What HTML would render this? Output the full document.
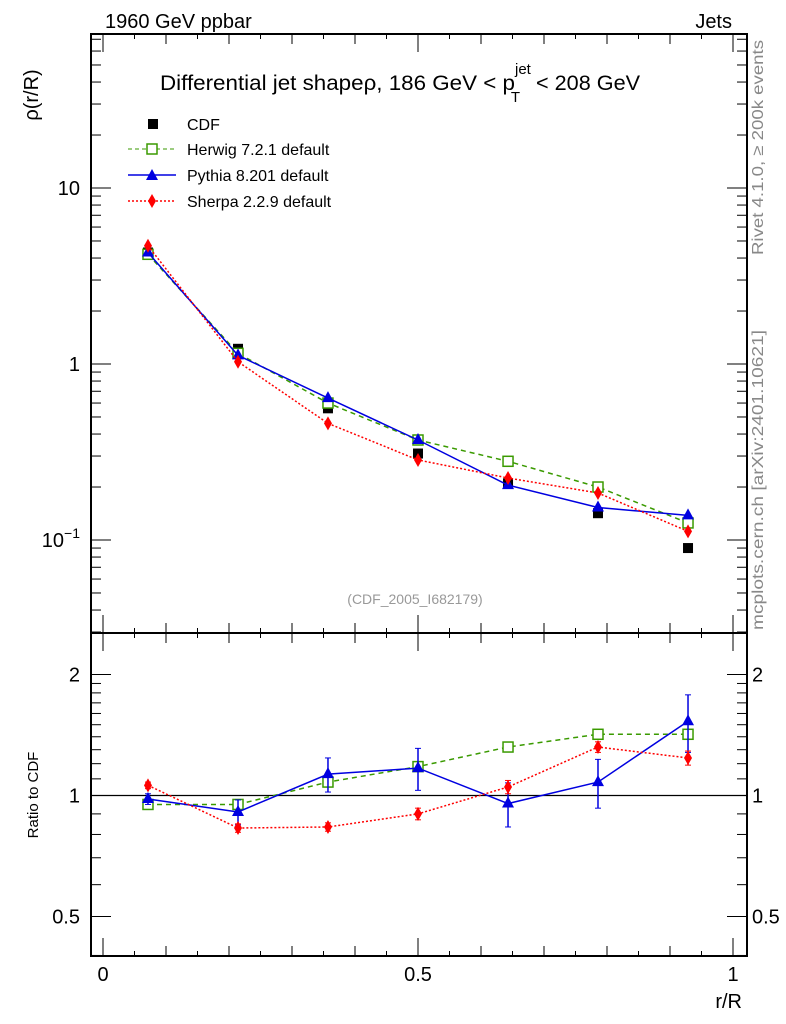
<!DOCTYPE html>
<html><head><meta charset="utf-8"><style>
body{margin:0;background:#fff}
svg{display:block;font-family:"Liberation Sans",sans-serif}
</style></head><body>
<svg id="c" width="786" height="1024" viewBox="0 0 786 1024" xmlns="http://www.w3.org/2000/svg">
<text x="105" y="28" font-size="20">1960 GeV ppbar</text>
<text x="732" y="28" font-size="20" text-anchor="end">Jets</text>
<text x="160" y="90" font-size="21"><tspan textLength="355" lengthAdjust="spacingAndGlyphs">Differential jet shapeρ, 186 GeV &lt; p</tspan><tspan dy="-16" font-size="15">jet</tspan><tspan dx="-20" dy="28" font-size="15">T</tspan><tspan dx="10" dy="-12" textLength="110" lengthAdjust="spacingAndGlyphs"> &lt; 208 GeV</tspan></text>
<text transform="translate(763,255) rotate(-90)" font-size="16" fill="#888" textLength="215" lengthAdjust="spacingAndGlyphs">Rivet 4.1.0, ≥ 200k events</text>
<text transform="translate(763,630) rotate(-90)" font-size="16" fill="#888" textLength="300" lengthAdjust="spacingAndGlyphs">mcplots.cern.ch [arXiv:2401.10621]</text>
<text x="415" y="604" font-size="14" fill="#999" text-anchor="middle">(CDF_2005_I682179)</text>
<text transform="translate(38,95) rotate(-90)" font-size="20" text-anchor="middle">ρ(r/R)</text>
<text transform="translate(38,795) rotate(-90)" font-size="15" text-anchor="middle">Ratio to CDF</text>
<text x="742" y="1008" font-size="20" text-anchor="end">r/R</text>
<g id="g"></g>
<g>
<rect x="148" y="119" width="10" height="10" fill="#000"/>
<text x="187" y="130" font-size="16">CDF</text>
<line x1="128" y1="149" x2="176" y2="149" stroke="#3a9a00" stroke-dasharray="4,3"/>
<rect x="147" y="144" width="10" height="10" fill="#fff" stroke="#3a9a00" stroke-width="1.5"/>
<text x="187" y="155" font-size="16">Herwig 7.2.1 default</text>
<line x1="128" y1="175" x2="176" y2="175" stroke="#0000e0" stroke-width="1.5"/>
<polygon points="152,169 158,180 146,180" fill="#0000e0"/>
<text x="187" y="181" font-size="16">Pythia 8.201 default</text>
<line x1="128" y1="201" x2="176" y2="201" stroke="#f00" stroke-dasharray="2,2" stroke-width="1.5"/>
<polygon points="152,194 156,201 152,208 148,201" fill="#f00"/>
<text x="187" y="207" font-size="16">Sherpa 2.2.9 default</text>
</g>
</svg>
<script>
const xs=[0.0714,0.2143,0.3571,0.5,0.6429,0.7857,0.9286];
const cdf=[4.3,1.22,0.56,0.31,0.21,0.142,0.09];
const herwig=[4.2,1.15,0.60,0.37,0.28,0.20,0.125];
const pythia=[4.3,1.12,0.64,0.37,0.205,0.153,0.138];
const sherpa=[4.7,1.03,0.46,0.285,0.225,0.185,0.112];
const rHerwig=[0.95,0.95,1.08,1.18,1.32,1.42,1.42];
const rHerwigErr=[0.02,0.02,0.03,0.03,0.03,0.03,0.03];
const rPythia=[0.98,0.91,1.13,1.17,0.955,1.08,1.53];
const rPythiaErr=[0.03,0.065,0.11,0.14,0.12,0.15,0.25];
const rSherpa=[1.06,0.83,0.835,0.90,1.05,1.32,1.24];
const rSherpaErr=[0.02,0.02,0.02,0.03,0.04,0.04,0.05];
const NS="http://www.w3.org/2000/svg",g=document.getElementById('g');
const L=91,R=747,T=34,M=633,B=956;
const X=v=>103+v*630;
const Y=v=>364-176*Math.log10(v);
const RY=v=>795.5-121*Math.log2(v);
function el(t,a,name){const e=document.createElementNS(NS,t);for(const k in a)e.setAttribute(k,a[k]);


g.appendChild(e);return e;}
el('rect',{x:L,y:T,width:R-L,height:M-T,fill:'none',stroke:'#000','stroke-width':2},'main-frame');
el('rect',{x:L,y:M,width:R-L,height:B-M,fill:'none',stroke:'#000','stroke-width':2},'ratio-frame');
for(let i=0;i<=20;i++){const v=i*0.05,x=X(v),len=i%10==0?18:(i%2==0?10:5);
 for(const [y0,d] of [[T,1],[M,-1],[M,1],[B,-1]]) el('line',{x1:x,y1:y0,x2:x,y2:y0+d*len,stroke:'#000'},'x-tick');}
['0','0.5','1'].forEach((s,i)=>{const t=el('text',{x:X(i*0.5),y:981,'font-size':20,'text-anchor':'middle'},'x-tick-label');t.textContent=s;});
for(let d=-2;d<=1;d++)for(let m=1;m<10;m++){const v=m*Math.pow(10,d),y=Y(v);if(y<T||y>M)continue;
 const len=m==1?20:10;el('line',{x1:L,y1:y,x2:L+len,y2:y,stroke:'#000'},'y-tick');el('line',{x1:R,y1:y,x2:R-len,y2:y,stroke:'#000'},'y-tick');}
[[10,'10'],[1,'1']].forEach(([v,s])=>{const t=el('text',{x:80,y:Y(v)+7,'font-size':20,'text-anchor':'end'},'y-tick-label');t.textContent=s;});
{const t=el('text',{x:80,y:Y(0.1)+7,'font-size':20,'text-anchor':'end'},'y-tick-label');t.innerHTML='10<tspan dy="-9" font-size="14">−1</tspan>';}
for(const v of [0.4,0.5,0.6,0.7,0.8,0.9,1,1.1,1.2,1.3,1.4,1.5,1.6,1.7,1.8,1.9,2]){const y=RY(v);if(y<M||y>B)continue;
 const len=[0.5,1,2].includes(v)?20:10;el('line',{x1:L,y1:y,x2:L+len,y2:y,stroke:'#000'},'ratio-tick');el('line',{x1:R,y1:y,x2:R-len,y2:y,stroke:'#000'},'ratio-tick');}
[[2,'2'],[1,'1'],[0.5,'0.5']].forEach(([v,s])=>{for(const [x,a] of [[80,'end'],[752,'start']]){const t=el('text',{x:x,y:RY(v)+7,'font-size':20,'text-anchor':a},'ratio-tick-label');t.textContent=s;}});
el('line',{x1:L,y1:RY(1),x2:R,y2:RY(1),stroke:'#000','stroke-width':1.2},'ratio-unity-line');
function series(vals,f,col,dash,mark,name,errs){
 el('polyline',{points:vals.map((v,i)=>X(xs[i])+','+f(v)).join(' '),fill:'none',stroke:col,'stroke-width':1.5,'stroke-dasharray':dash},name+'-line');
 vals.forEach((v,i)=>{const x=X(xs[i]),y=f(v);
  if(errs){const y1=f(v+errs[i]),y2=f(v-errs[i]);el('line',{x1:x,y1:y1,x2:x,y2:y2,stroke:col,'stroke-width':1.5},name+'-error');
   el('line',{x1:x-3,y1:y1,x2:x+3,y2:y1,stroke:col},name+'-error-cap');el('line',{x1:x-3,y1:y2,x2:x+3,y2:y2,stroke:col},name+'-error-cap');}
  if(mark=='sq')el('rect',{x:x-5,y:y-5,width:10,height:10,fill:'#fff',stroke:col,'stroke-width':1.5},name+'-point');
  if(mark=='tri')el('polygon',{points:`${x},${y-7} ${x+6},${y+4} ${x-6},${y+4}`,fill:col},name+'-point');
  if(mark=='dia')el('polygon',{points:`${x},${y-7} ${x+4},${y} ${x},${y+7} ${x-4},${y}`,fill:col},name+'-point');
 });}
cdf.forEach((v,i)=>el('rect',{x:X(xs[i])-5,y:Y(v)-5,width:10,height:10,fill:'#000'},'cdf-point'));
series(herwig,Y,'#3a9a00','5,4','sq','herwig');
series(pythia,Y,'#0000e0','none','tri','pythia');
series(sherpa,Y,'#f00','2,2','dia','sherpa');
series(rHerwig,RY,'#3a9a00','5,4','sq','ratio-herwig',rHerwigErr);
series(rPythia,RY,'#0000e0','none','tri','ratio-pythia',rPythiaErr);
series(rSherpa,RY,'#f00','2,2','dia','ratio-sherpa',rSherpaErr);
</script>
</body></html>
